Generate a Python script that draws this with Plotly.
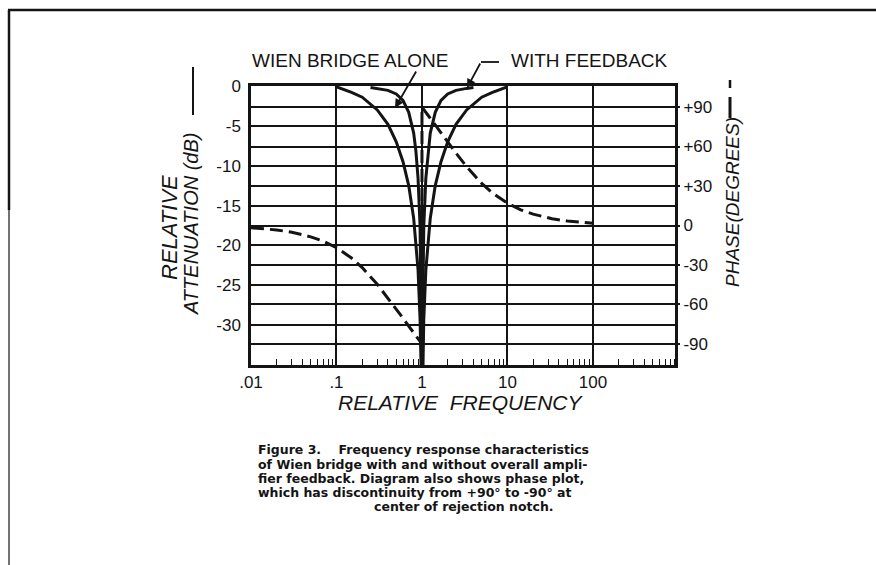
import plotly.graph_objects as go

# ---- data -----------------------------------------------------------------
# Relative frequency axis ticks
freq_ticks = [0.01, 0.1, 1, 10, 100]
freq_labels = [".01", ".1", "1", "10", "100"]

# Attenuation axis (left) and phase axis (right)
att_ticks = [0, -5, -10, -15, -20, -25, -30]
att_labels = ["0", "-5", "-10", "-15", "-20", "-25", "-30"]
phase_ticks = [90, 60, 30, 0, -30, -60, -90]
phase_labels = ["+90", "+60", "+30", "0", "-30", "-60", "-90"]

# Wien bridge alone: attenuation (dB) vs relative frequency
wien_f = [0.1, 0.15, 0.2, 0.3, 0.4, 0.5, 0.6, 0.7, 0.8, 0.9, 0.95, 0.97, 0.98, 1.0,
          1.02, 1.03, 1.05, 1.11, 1.25, 1.43, 1.67, 2.0, 2.5, 3.33, 5.0, 6.67, 10.0]
wien_db = [-0.1, -0.8, -1.4, -3.0, -4.8, -7.0, -9.5, -12.5, -16.6, -23.1, -29.3, -33.9, -37.4, -40.0,
           -37.4, -33.9, -29.3, -23.1, -16.6, -12.5, -9.5, -7.0, -4.8, -3.0, -1.4, -0.8, -0.1]

# With overall amplifier feedback: much narrower notch
fb_f = [0.25, 0.3, 0.4, 0.5, 0.6, 0.7, 0.8, 0.85, 0.9, 0.95, 0.98, 0.99, 1.0,
        1.01, 1.02, 1.05, 1.11, 1.18, 1.25, 1.43, 1.67, 2.0, 2.5, 3.33, 4.0]
fb_db = [-0.2, -0.3, -0.55, -1.0, -1.8, -3.3, -5.9, -8.2, -11.6, -17.6, -25.6, -31.7, -40.0,
         -31.7, -25.6, -17.6, -11.6, -8.2, -5.9, -3.3, -1.8, -1.0, -0.55, -0.3, -0.2]

# Phase (degrees), jumping from -90 to +90 at the notch centre
phase_f = [0.01, 0.02, 0.03, 0.05, 0.07, 0.1, 0.15, 0.2, 0.3, 0.4, 0.5, 0.6, 0.7, 0.8, 0.9, 0.95, 1.0,
           1.0, 1.05, 1.11, 1.25, 1.43, 1.67, 2.0, 2.5, 3.33, 5.0, 6.67, 10.0, 14.3, 20.0, 33.3, 50.0, 100.0]
phase_deg = [-1.7, -3.4, -5.1, -8.6, -11.9, -16.9, -24.7, -32.0, -44.7, -55.0, -63.4, -70.4, -76.4, -81.5, -86.0, -88.0, -90.0,
             90.0, 88.0, 86.0, 81.5, 76.4, 70.4, 63.4, 55.0, 44.7, 32.0, 24.7, 16.9, 11.9, 8.6, 5.1, 3.4, 1.7]

caption_lines = [
    "Figure 3.\u00a0\u00a0\u00a0 Frequency response characteristics",
    "of Wien bridge with and without overall ampli-",
    "fier feedback. Diagram also shows phase plot,",
    "which has discontinuity from +90° to -90° at",
]
caption_last = "center of rejection notch."

# ---- layout helpers -------------------------------------------------------
W, H = 876, 565
L, R, T, B = 251, 675, 86, 365
INK = "#141414"
FONT = "Liberation Sans"
CAP_FONT = "DejaVu Sans"


def px(x):
    return (x - L) / (R - L)


def py(y):
    return (B - y) / (B - T)


def label(x, y, text, size, family=FONT, angle=0, xanchor="center"):
    return dict(x=px(x), y=py(y), xref="paper", yref="paper", text=text,
                textangle=angle, showarrow=False, xanchor=xanchor, yanchor="middle",
                borderpad=0, font=dict(size=size, family=family, color=INK))


minor_x = [m * 10 ** e for e in range(-2, 3) for m in range(2, 10)]

fig = go.Figure()

fig.add_trace(go.Scatter(x=wien_f, y=wien_db, mode="lines",
                         line=dict(color=INK, width=3), showlegend=False, hoverinfo="skip"))
fig.add_trace(go.Scatter(x=fb_f, y=fb_db, mode="lines",
                         line=dict(color=INK, width=3), showlegend=False, hoverinfo="skip"))
fig.add_trace(go.Scatter(x=phase_f, y=phase_deg, mode="lines", yaxis="y2",
                         line=dict(color=INK, width=3, dash="13px,6px"),
                         showlegend=False, hoverinfo="skip"))

fig.update_layout(
    width=W, height=H,
    margin=dict(l=L, r=W - R, t=T, b=H - B),
    paper_bgcolor="white", plot_bgcolor="white",
    font=dict(family=FONT, color=INK),
    xaxis=dict(
        type="log", range=[-2, 2.96],
        tickmode="array", tickvals=freq_ticks, ticktext=freq_labels,
        ticks="", tickfont=dict(size=17, family=FONT, color=INK), ticklabelstandoff=0,
        showgrid=True, gridcolor=INK, gridwidth=1.6,
        showline=True, linecolor=INK, linewidth=2.5, mirror=True, zeroline=False,
        minor=dict(tickvals=minor_x, ticks="inside", ticklen=6, tickwidth=1.3,
                   tickcolor=INK, showgrid=False),
    ),
    yaxis=dict(
        range=[-35, 0], tickmode="array", tickvals=att_ticks, ticktext=att_labels,
        ticks="", tickfont=dict(size=17, family=FONT, color=INK), ticklabelstandoff=4,
        showgrid=True, gridcolor=INK, gridwidth=1.6,
        showline=True, linecolor=INK, linewidth=2.5, mirror=True, zeroline=False,
    ),
    yaxis2=dict(
        overlaying="y", side="right", range=[-106, 106],
        tickmode="array", tickvals=phase_ticks, ticktext=phase_labels,
        ticks="outside", ticklen=4, tickwidth=1.5, tickcolor=INK,
        tickfont=dict(size=17, family=FONT, color=INK),
        showgrid=True, gridcolor=INK, gridwidth=1.6,
        showline=False, zeroline=False,
    ),
)

ann = []
# Curve labels at the top
ann.append(label(350, 60, "WIEN BRIDGE ALONE", 19))
ann.append(label(589, 60, "WITH FEEDBACK", 19))
# Leader arrows
ann.append(dict(x=px(395), y=py(108), xref="paper", yref="paper", text="",
                showarrow=True, arrowhead=2, arrowsize=1, arrowwidth=1.8, arrowcolor=INK,
                ax=22, ay=-38))
ann.append(dict(x=px(467), y=py(88), xref="paper", yref="paper", text="",
                showarrow=True, arrowhead=2, arrowsize=1, arrowwidth=1.8, arrowcolor=INK,
                ax=14, ay=-26))
# Axis titles
ann.append(label(170, 228, "<i>RELATIVE</i>", 22, angle=-90))
ann.append(label(191, 224, "<i>ATTENUATION (dB)</i>", 20, angle=-90))
ann.append(label(732, 202, "<i>PHASE(DEGREES)</i>", 19, angle=-90))
ann.append(label(460, 402, "<i>RELATIVE\u00a0 FREQUENCY</i>", 21))
# Caption
cap_y = [450, 464, 478, 492]
for line, yy in zip(caption_lines, cap_y):
    ann.append(label(257, yy, "<b>" + line + "</b>", 12.5, family=CAP_FONT, xanchor="left"))
ann.append(label(464, 506, "<b>" + caption_last + "</b>", 12.5, family=CAP_FONT))
fig.update_layout(annotations=ann)

shapes = [
    # page frame
    dict(type="line", xref="paper", yref="paper", x0=px(8), x1=px(876), y0=py(10), y1=py(10),
         line=dict(color=INK, width=2.5)),
    dict(type="line", xref="paper", yref="paper", x0=px(9), x1=px(9), y0=py(10), y1=py(210),
         line=dict(color=INK, width=2.5)),
    dict(type="line", xref="paper", yref="paper", x0=px(9), x1=px(9), y0=py(210), y1=py(565),
         line=dict(color=INK, width=1.2)),
    # solid-line key beside the attenuation title
    dict(type="line", xref="paper", yref="paper", x0=px(193), x1=px(193), y0=py(67), y1=py(115),
         line=dict(color=INK, width=2)),
    # dashed-line key beside the phase title
    dict(type="line", xref="paper", yref="paper", x0=px(730), x1=px(730), y0=py(80), y1=py(88),
         line=dict(color=INK, width=2.5)),
    dict(type="line", xref="paper", yref="paper", x0=px(730), x1=px(730), y0=py(97), y1=py(118),
         line=dict(color=INK, width=3)),
    # horizontal stub of the feedback leader
    dict(type="line", xref="paper", yref="paper", x0=px(481), x1=px(499), y0=py(62), y1=py(62),
         line=dict(color=INK, width=1.8)),
]
fig.update_layout(shapes=shapes)

fig.write_html("out.html")
